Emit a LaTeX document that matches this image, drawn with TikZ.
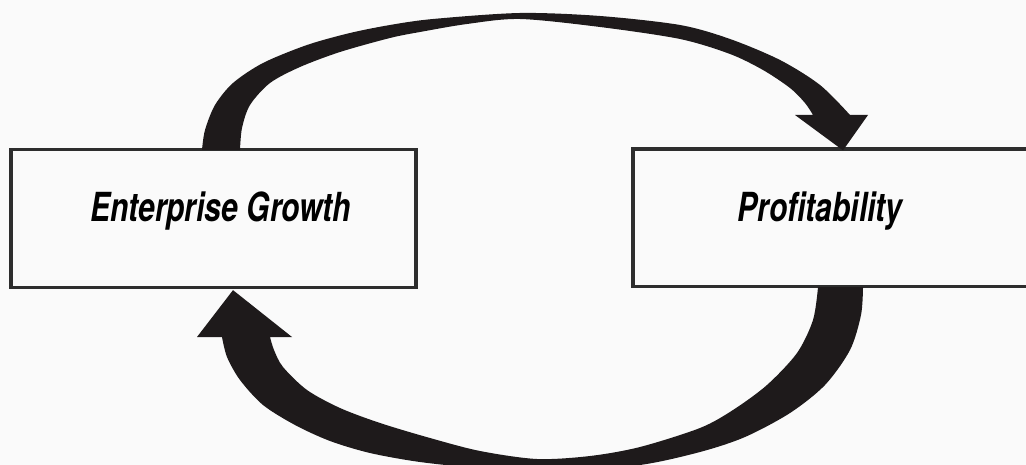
\documentclass[tikz,border=0pt]{standalone}
\usepackage{fontspec}
\newfontfamily\labelfont{TeX Gyre Heros}[FakeStretch=0.75]
\usetikzlibrary{calc}
\definecolor{ink}{RGB}{30,26,27}
\definecolor{frame}{RGB}{45,45,45}
\definecolor{paper}{RGB}{250,250,250}

\begin{document}
\begin{tikzpicture}[
    x=0.02cm, y=-0.02cm,
    box/.style={rectangle, draw=frame, line width=0.066cm, minimum width=8.1cm, minimum height=2.76cm, inner sep=0pt},
    boxtext/.style={font=\labelfont\bfseries\itshape\fontsize{22.8}{26}\selectfont, anchor=base, inner sep=0pt},
    bigarrow/.style={fill=ink, draw=none}
]

\useasboundingbox[fill=paper] (0,0) rectangle (1026,465);

\node[box] (egbox) at (213.5,218.5) {};
\node[box, minimum width=8.14cm, minimum height=2.75cm] (profbox) at (836.5,217.75) {};
\node[boxtext] (eg) at (220.5,222) {Enterprise Growth};
\node[boxtext] (prof) at (820,222) {Profitability};

% growth -> profitability (over the top)
\fill[bigarrow]
  plot[smooth] coordinates {([shift={(-11.5,2)}]egbox.north) (205,130) (215,105) (233,83) (263,63) (307,45) (350,33) (390,25) (433,19) (520,13) (600,16) (680,25) (730,39) (780,60) (820,85) (850,115)}
  -- (868,115) -- ([shift={(6.5,3)}]profbox.north) -- (795,115) --
  plot[smooth] coordinates {(813,115) (805,103) (790,88) (763,70) (730,54) (680,39) (600,27) (520,19) (467,24) (420,32) (390,38) (340,52) (300,67) (270,83) (250,105) (242,128) ([shift={(26.5,2)}]egbox.north)}
  -- cycle;

% profitability -> growth (under the bottom)
\fill[bigarrow]
  plot[smooth] coordinates {([shift={(26.5,-1)}]profbox.south) (861,315) (850,350) (825,385) (790,413) (745,437) (700,452) (640,465) (560,471) (480,468) (420,462) (370,453) (330,441) (295,425) (263,405) (240,380) (227,357) (222,337)}
  -- (197,337) -- ([shift={(19.5,1)}]egbox.south) -- (292,337) --
  plot[smooth] coordinates {(270,337) (274,350) (283,367) (307,390) (340,408) (380,423) (430,438) (480,451) (537,459) (590,456) (640,447) (700,428) (733,410) (767,385) (797,353) (813,320) ([shift={(-18.5,-1)}]profbox.south)}
  -- cycle;

\end{tikzpicture}
\end{document}
